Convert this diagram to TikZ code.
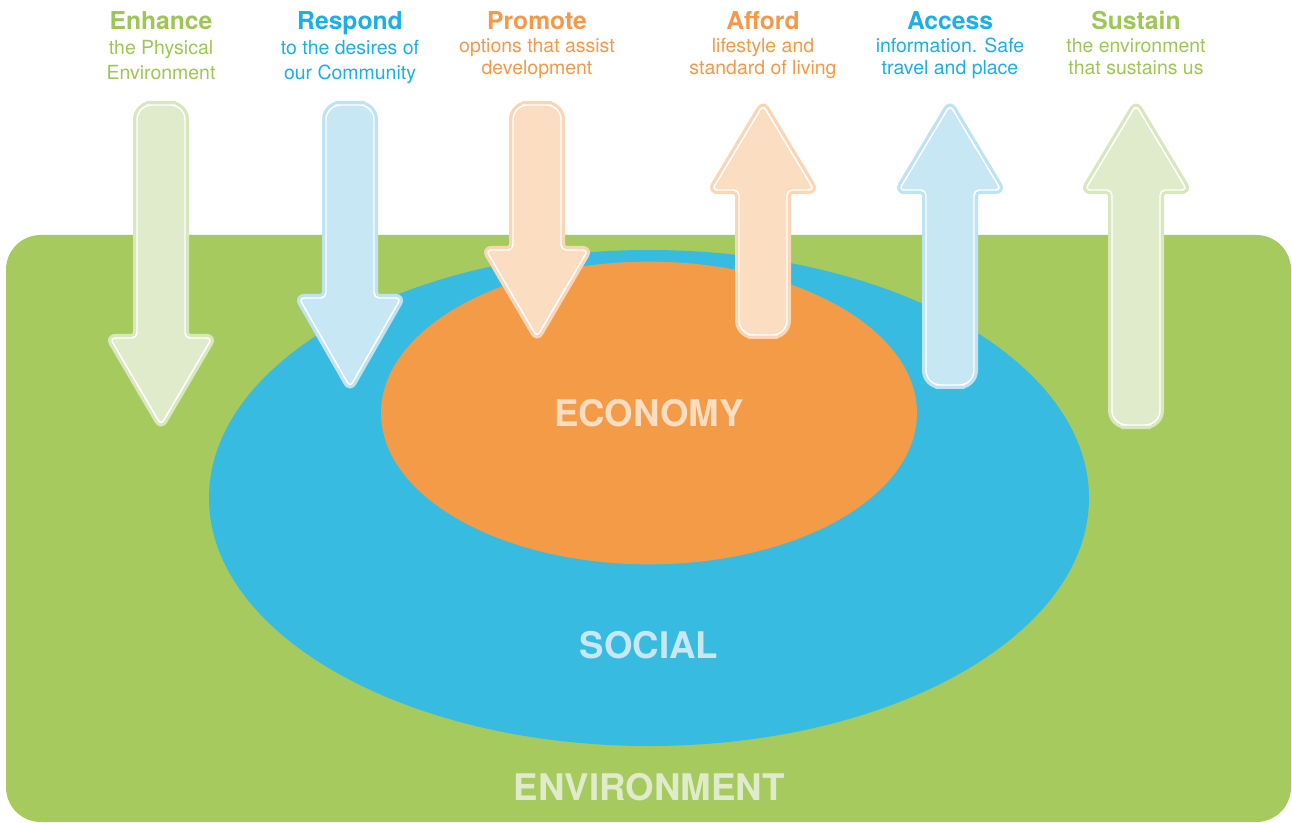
\documentclass[tikz,border=0pt]{standalone}
\usepackage{fontspec}
\setmainfont{TeX Gyre Heros}
\usetikzlibrary{positioning}

\definecolor{envgreen}{HTML}{A6CA5E}
\definecolor{socblue}{HTML}{38BBE1}
\definecolor{ecoorange}{HTML}{F49B48}
\definecolor{greentext}{HTML}{9EC655}
\definecolor{bluetext}{HTML}{1BAEE9}
\definecolor{orangetext}{HTML}{F4994A}
\definecolor{greenpale}{HTML}{E0EBCB}
\definecolor{bluepale}{HTML}{C8E7F4}
\definecolor{orangepale}{HTML}{FBDDC2}
\definecolor{greenring}{HTML}{D8E7BE}
\definecolor{bluering}{HTML}{BEE3F3}
\definecolor{orangering}{HTML}{FAD6B6}

\tikzset{
  headline/.style={anchor=base, font=\fontsize{18.5}{20}\selectfont\bfseries},
  blurb/.style={anchor=base, font=\fontsize{14.6}{16}\selectfont},
  bigword/.style={font=\fontsize{27.5}{30}\selectfont\bfseries},
}

% #1 fill, #2 ring, #3 centre x, #4 shaft end y, #5 head base y, #6 tip y
\newcommand{\bigarrow}[6]{%
  \path[preaction={draw=#2, line width=6pt}, fill=#1, draw=white, line width=1.1pt]
    (#3,#4) [rounded corners=11pt] -- (#3-24,#4) -- (#3-24,{(#4+#5)/2})
    [rounded corners=4pt] -- (#3-24,#5) -- (#3-51,#5) -- (#3,#6) -- (#3+51,#5)
    -- (#3+24,#5) -- (#3+24,{(#4+#5)/2})
    [rounded corners=11pt] -- (#3+24,#4) -- cycle;
}

\begin{document}
\begin{tikzpicture}[x=0.75pt, y=-0.75pt]
  \useasboundingbox (0,0) rectangle (1292,823);

  % Background and the two ellipses
  \fill[envgreen, rounded corners=26pt] (6,235) rectangle (1291,822);
  \fill[socblue] (649,498) ellipse [x radius=330pt, y radius=186pt];
  \fill[ecoorange] (649,413) ellipse [x radius=201pt, y radius=113.5pt];

  \node[bigword, text=orangepale] (economy) at (649,413) {ECONOMY};
  \node[bigword, text=bluepale] (social) at (649,645) {SOCIAL};
  \node[bigword, text=greenpale] (environment) at (649,787) {ENVIRONMENT};

  % Arrows going in
  \bigarrow{greenpale}{greenring}{161}{105}{338}{425}
  \bigarrow{bluepale}{bluering}{350}{105}{298}{387}
  \bigarrow{orangepale}{orangering}{537}{105}{250}{337}

  % Arrows going out
  \bigarrow{orangepale}{orangering}{763}{335}{190}{105}
  \bigarrow{bluepale}{bluering}{950}{385}{190}{105}
  \bigarrow{greenpale}{greenring}{1136}{425}{190}{105}

  % Headings, one line per node
  \node[headline, text=greentext] (enhance) at (161,29.5) {Enhance};
  \node[blurb, text=greentext] (enhance-a) at (161,55) {the Physical};
  \node[blurb, text=greentext] (enhance-b) at (161,80) {Environment};

  \node[headline, text=bluetext] (respond) at (350,29.5) {Respond};
  \node[blurb, text=bluetext] (respond-a) at (350,55) {to the desires of};
  \node[blurb, text=bluetext] (respond-b) at (350,80) {our Community};

  \node[headline, text=orangetext] (promote) at (537,29.5) {Promote};
  \node[blurb, text=orangetext] (promote-a) at (537,53) {options that assist};
  \node[blurb, text=orangetext] (promote-b) at (537,75) {development};

  \node[headline, text=orangetext] (afford) at (763,29.5) {Afford};
  \node[blurb, text=orangetext] (afford-a) at (763,53) {lifestyle and};
  \node[blurb, text=orangetext] (afford-b) at (763,75) {standard of living};

  \node[headline, text=bluetext] (access) at (950,29.5) {Access};
  \node[blurb, text=bluetext] (access-a) at (950,53) {information. Safe};
  \node[blurb, text=bluetext] (access-b) at (950,75) {travel and place};

  \node[headline, text=greentext] (sustain) at (1136,29.5) {Sustain};
  \node[blurb, text=greentext] (sustain-a) at (1136,53) {the environment};
  \node[blurb, text=greentext] (sustain-b) at (1136,75) {that sustains us};

\end{tikzpicture}
\end{document}
